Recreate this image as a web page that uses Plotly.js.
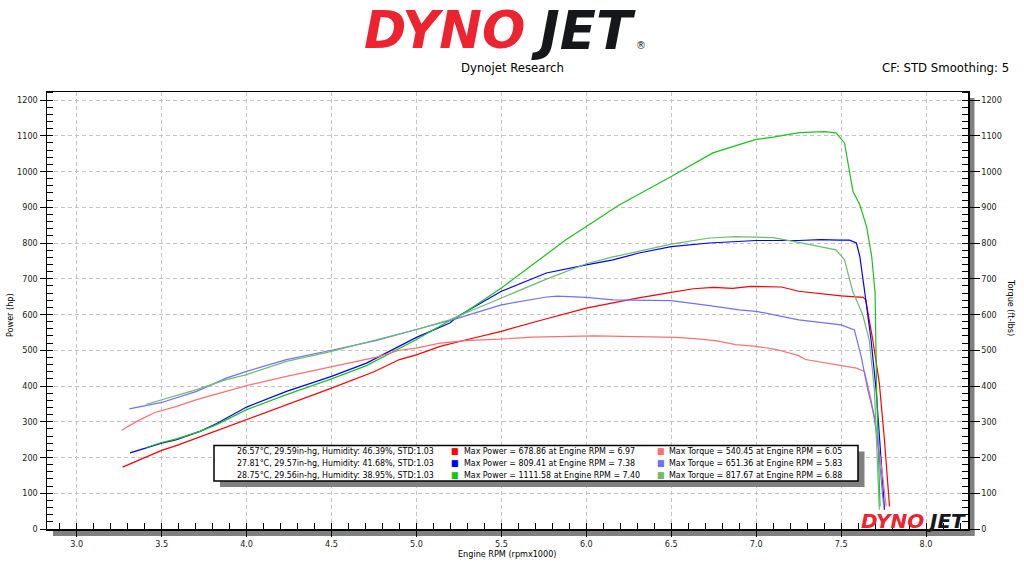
<!DOCTYPE html>
<html>
<head>
<meta charset="utf-8">
<script src="https://cdn.plot.ly/plotly-3.0.1.min.js"></script>
<style>
html, body {margin:0; padding:0; background:#fff;}
#dyno {width:1024px; height:576px;}
</style>
</head>
<body>
<div id="dyno"></div>
<script>
//------------------------------------ run data (rpm x1000) ---------------------------------------------//
var rpm_p1 = [3.27, 3.37, 3.5, 3.59, 3.75, 4.0, 4.25, 4.5, 4.75, 4.9, 5.0, 5.14, 5.3, 5.5, 5.75, 5.9, 6.0, 6.15, 6.3, 6.5,
              6.63, 6.75, 6.86, 6.97, 7.15, 7.25, 7.4, 7.5, 7.63, 7.645, 7.686, 7.725, 7.755, 7.78, 7.785];
var power1 = [173, 194, 220, 234, 262, 307, 350, 394, 440, 474, 487, 511, 530, 553, 586, 604, 618, 632, 646, 662,
              672, 676, 673, 678.86, 677, 665, 657, 652, 648, 641, 530, 408, 250, 110, 63];

var rpm_t1 = [3.265, 3.353, 3.46, 3.588, 3.706, 3.882, 4.0, 4.235, 4.5, 4.765, 4.9, 5.0, 5.14, 5.29, 5.49, 5.68, 6.05,
              6.16, 6.39, 6.53, 6.67, 6.76, 6.88, 7.0, 7.12, 7.25, 7.29, 7.5, 7.59, 7.637, 7.676, 7.715, 7.745, 7.765];
var torque1 = [276, 301, 326, 343, 362, 385, 401, 427, 453, 481, 500, 506, 520, 527, 531, 537, 540.45,
               539, 538, 536, 531, 527, 516, 511, 502, 485, 474, 457, 450, 441, 362, 250, 147, 63];

var rpm_p2 = [3.314, 3.41, 3.5, 3.588, 3.725, 3.824, 4.0, 4.235, 4.5, 4.706, 4.9, 5.0, 5.196, 5.245, 5.5, 5.765, 6.0,
              6.157, 6.31, 6.5, 6.725, 7.0, 7.25, 7.38, 7.49, 7.55, 7.59, 7.61, 7.637, 7.676, 7.706, 7.729, 7.745, 7.755];
var power2 = [213, 227, 240, 250, 273, 295, 341, 385, 427, 464, 511, 536, 576, 595, 665, 716, 739,
              753, 772, 790, 800, 807, 807, 809.41, 808, 808, 800, 763, 670, 530, 390, 250, 129, 54];

var rpm_t2 = [3.31, 3.5, 3.706, 3.88, 4.0, 4.235, 4.5, 4.76, 5.0, 5.196, 5.245, 5.5, 5.765, 5.83, 6.0, 6.157, 6.5,
              6.725, 6.9, 7.0, 7.25, 7.5, 7.578, 7.618, 7.657, 7.696, 7.721, 7.741, 7.749];
var torque2 = [336, 354, 385, 422, 441, 474, 500, 527, 558, 583, 590, 627, 649, 651.36, 648, 641, 639,
               625, 613, 609, 585, 571, 557, 483, 390, 315, 222, 110, 73];

var rpm_p3 = [3.41, 3.5, 3.588, 3.725, 3.824, 4.0, 4.235, 4.5, 4.706, 5.0, 5.196, 5.245, 5.5, 5.68, 5.88, 6.0, 6.068,
              6.186, 6.5, 6.745, 6.9, 7.0, 7.1, 7.255, 7.4, 7.47, 7.52, 7.57, 7.61, 7.65, 7.68, 7.7, 7.709, 7.721, 7.729];
var power3 = [228, 242, 252, 273, 292, 334, 376, 420, 457, 530, 583, 593, 674, 739, 809, 846, 867,
              904, 986, 1052, 1075, 1090, 1096, 1109, 1111.58, 1108, 1080, 944, 907, 846, 763, 660, 390, 203, 63];

var rpm_t3 = [3.41, 3.5, 3.706, 3.88, 4.0, 4.235, 4.5, 5.0, 5.196, 5.245, 5.5, 5.765, 6.0, 6.157, 6.5, 6.725, 6.88,
              7.0, 7.1, 7.25, 7.47, 7.52, 7.568, 7.627, 7.665, 7.696, 7.709, 7.719, 7.725];
var torque3 = [349, 362, 390, 418, 432, 469, 497, 558, 585, 595, 646, 699, 742, 761, 797, 814, 817.67,
               816, 815, 802, 781, 753, 665, 600, 530, 390, 250, 110, 54];

//------------------------------------ legend info ---------------------------------------------//
var weather = ['26.57°C, 29.59in-hg, Humidity: 46.39%, STD:1.03',
               '27.81°C, 29.57in-hg, Humidity: 41.68%, STD:1.03',
               '28.75°C, 29.56in-hg, Humidity: 38.95%, STD:1.03'];
var max_power = [678.86, 809.41, 1111.58];
var max_power_rpm = [6.97, 7.38, 7.40];
var max_torque = [540.45, 651.36, 817.67];
var max_torque_rpm = [6.05, 5.83, 6.88];

var power_colors = ['#ff0000', '#0000ff', '#1cc21c'];
var torque_colors = ['#ff7070', '#7070ff', '#6cbc6c'];

//------------------------------------ traces ---------------------------------------------//
var runs_p = [[rpm_p1, power1], [rpm_p2, power2], [rpm_p3, power3]];
var runs_t = [[rpm_t1, torque1], [rpm_t2, torque2], [rpm_t3, torque3]];
var data = [];
for (var i = 0; i < 3; i++) {
  data.push({x: runs_t[i][0], y: runs_t[i][1], yaxis: 'y2', type: 'scatter', mode: 'lines',
             line: {color: torque_colors[i], width: 1.2}, hoverinfo: 'skip'});
}
for (var i = 0; i < 3; i++) {
  data.push({x: runs_p[i][0], y: runs_p[i][1], type: 'scatter', mode: 'lines',
             line: {color: power_colors[i], width: 1.2}, hoverinfo: 'skip'});
}

//------------------------------------ layout helpers (pixel -> paper) ---------------------------------------------//
var L = 47, R = 56, T = 92, B = 47, W = 1024, H = 576;
function px(x) { return (x - L) / (W - L - R); }
function py(y) { return (H - B - y) / (H - T - B); }

var font = 'DejaVu Sans Condensed, DejaVu Sans, sans-serif';
var tickfont = {family: font, size: 9, color: '#1a1a1a'};
var yrange = [0, 1222.4];

var annotations = [];
function note(text, x, y, size, color, xanchor, angle, family) {
  annotations.push({text: text, xref: 'paper', yref: 'paper', x: px(x), y: py(y),
    xanchor: xanchor || 'center', yanchor: 'middle', showarrow: false, textangle: angle || 0,
    font: {family: family || font, size: size, color: color || '#000'}});
}

// header logo and texts
var logo_font = 'DejaVu Sans, sans-serif';
var logo_red = '#ee2330', logo_black = '#15171b';
note('<b><i>DYNO</i></b>', 527, 30, 51, logo_red, 'right', 0, logo_font);
note('<b><i>JET</i></b>', 529, 30, 53, logo_black, 'left', 0, logo_font);
note('®', 641, 46, 11, logo_black);
note('Dynojet Research', 512, 67, 13);
note('CF: STD Smoothing: 5', 1011, 67, 13, '#000', 'right');

// axis titles
note('Power (hp)', 10, 315, 9, '#000', 'center', -90);
note('Torque (ft-lbs)', 1011, 307, 9, '#000', 'center', 90);
note('Engine RPM (rpmx1000)', 507, 554, 9);

// small logo bottom right
note('<b><i>DYNO</i></b>', 926, 521, 20, logo_red, 'right', 0, logo_font);
note('<b><i>JET</i></b>', 924, 521, 20, logo_black, 'left', 0, logo_font);

// legend rows
for (var i = 0; i < 3; i++) {
  var ry = 451 + i * 12;
  note(weather[i], 436, ry, 8.8, '#000', 'right');
  note('■', 455, ry, 9, power_colors[i]);
  note('Max Power = ' + max_power[i].toFixed(2) + ' at Engine RPM = ' + max_power_rpm[i].toFixed(2), 462, ry, 8.8, '#000', 'left');
  note('■', 661, ry, 9, torque_colors[i]);
  note('Max Torque = ' + max_torque[i].toFixed(2) + ' at Engine RPM = ' + max_torque_rpm[i].toFixed(2), 667, ry, 8.8, '#000', 'left');
}

var shapes = [
  // drop shadow of the plot box
  {type: 'rect', xref: 'paper', yref: 'paper', x0: px(968), x1: px(974.5), y0: py(536), y1: py(98),
   fillcolor: '#808080', line: {width: 0}, layer: 'below'},
  {type: 'rect', xref: 'paper', yref: 'paper', x0: px(53), x1: px(974.5), y0: py(536), y1: py(529),
   fillcolor: '#808080', line: {width: 0}, layer: 'below'},
  // legend box + shadow
  {type: 'rect', xref: 'paper', yref: 'paper', x0: px(220), x1: px(864.5), y0: py(487), y1: py(451.5),
   fillcolor: '#808080', line: {width: 0}, layer: 'above'},
  {type: 'rect', xref: 'paper', yref: 'paper', x0: px(214), x1: px(858), y0: py(481), y1: py(445.5),
   fillcolor: '#ffffff', line: {color: '#000', width: 1.5}, layer: 'above'}
];

var layout = {
  width: W, height: H,
  margin: {l: L, r: R, t: T, b: B, pad: 0},
  paper_bgcolor: '#ffffff', plot_bgcolor: '#ffffff',
  showlegend: false,
  hovermode: false,
  xaxis: {range: [2.825, 8.247], tick0: 3.0, dtick: 0.5, tickformat: '.1f',
          ticks: 'outside', ticklen: 6, tickcolor: '#000', tickwidth: 1,
          showline: true, linecolor: '#000', linewidth: 1.5, mirror: true,
          showgrid: true, gridcolor: '#c4c4c4', griddash: '4px,3px', gridwidth: 1,
          zeroline: false, tickfont: tickfont, fixedrange: true,
          minor: {dtick: 0.1, tick0: 3.0, ticks: 'inside', ticklen: 6, tickcolor: '#000', showgrid: false}},
  yaxis: {range: yrange, tick0: 0, dtick: 100,
          ticks: 'outside', ticklen: 6, tickcolor: '#000', tickwidth: 1,
          showline: true, linecolor: '#000', linewidth: 1.5,
          showgrid: true, gridcolor: '#c4c4c4', griddash: '4px,3px', gridwidth: 1,
          zeroline: false, tickfont: tickfont, fixedrange: true,
          minor: {dtick: 20, ticks: 'inside', ticklen: 6, tickcolor: '#000', showgrid: false}},
  yaxis2: {range: yrange, tick0: 0, dtick: 100, overlaying: 'y', side: 'right',
           ticks: 'outside', ticklen: 10, tickcolor: '#000', tickwidth: 1,
           showline: true, linecolor: '#000', linewidth: 1.5,
           showgrid: false, zeroline: false, tickfont: tickfont, fixedrange: true,
           minor: {dtick: 20, ticks: 'inside', ticklen: 6, tickcolor: '#000', showgrid: false}},
  annotations: annotations,
  shapes: shapes
};

var config = {responsive: false, displayModeBar: false, staticPlot: true};
Plotly.newPlot('dyno', data, layout, config);
</script>
</body>
</html>
